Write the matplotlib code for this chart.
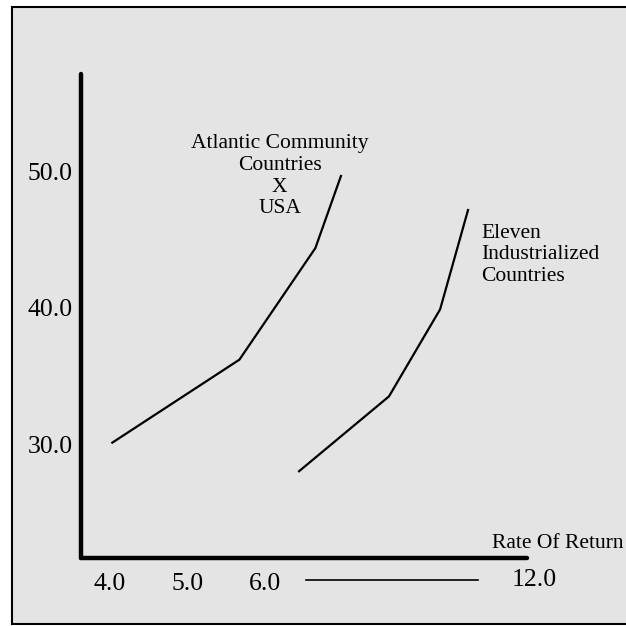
import matplotlib
matplotlib.use("Agg")
import matplotlib.pyplot as plt
from matplotlib.patches import Rectangle
import matplotlib.transforms as mtransforms

plt.rcParams['font.family'] = ['Liberation Serif', 'DejaVu Serif']

# Data
atlantic_x = [4.03, 5.67, 6.65, 6.98]
atlantic_y = [30.1, 36.2, 44.4, 49.7]
eleven_x = [6.44, 7.60, 8.26, 8.62]
eleven_y = [28.0, 33.5, 39.9, 47.2]

x_ticks = [4.0, 5.0, 6.0]
x_tick_labels = ['4.0', '5.0', '6.0']
y_ticks = [30.0, 40.0, 50.0]
y_tick_labels = ['30.0', '40.0', '50.0']
last_x_label = '12.0'
x_title = 'Rate Of Return'
atlantic_label = 'Atlantic Community\nCountries\nX\nUSA'
eleven_label = 'Eleven\nIndustrialized\nCountries'

W = H = 626
fig = plt.figure(figsize=(6.26, 6.26), dpi=100)
fig.patch.set_facecolor('white')

# gray panel with border
fig.patches.append(Rectangle((12 / W, 1 - 624 / H), 1.2, (624 - 7) / H,
                             transform=fig.transFigure, facecolor='#e4e4e4',
                             edgecolor='black', linewidth=1.5, zorder=-5))

left_px, right_px, top_px, bottom_px = 81, 527, 74, 558
ax = fig.add_axes([left_px / W, 1 - bottom_px / H,
                   (right_px - left_px) / W, (bottom_px - top_px) / H])
ax.set_facecolor('none')
ax.set_zorder(2)

xmin, xmax = 3.626, 9.381
ymin, ymax = 21.62, 57.2
ax.set_xlim(xmin, xmax)
ax.set_ylim(ymin, ymax)

for s in ['top', 'right']:
    ax.spines[s].set_visible(False)
for s in ['left', 'bottom']:
    ax.spines[s].set_linewidth(3.2)
    ax.spines[s].set_capstyle('round')

ax.set_xticks(x_ticks)
ax.set_xticklabels(x_tick_labels)
ax.set_yticks(y_ticks)
ax.set_yticklabels(y_tick_labels)
ax.tick_params(axis='both', length=0, labelsize=18.5)
ax.tick_params(axis='x', pad=11)
ax.tick_params(axis='y', pad=6)

ax.plot(atlantic_x, atlantic_y, color='black', lw=1.6, solid_joinstyle='miter')
ax.plot(eleven_x, eleven_y, color='black', lw=1.6, solid_joinstyle='miter')

# broken-axis indicator: line and 12.0 label
trans = mtransforms.blended_transform_factory(ax.transData, ax.transAxes)
ylab = -(580 - bottom_px) / (bottom_px - top_px)
ax.plot([6.53, 8.75], [ylab, ylab], transform=trans, color='black', lw=1.2,
        clip_on=False)
ax.text(9.48, ylab, last_x_label, transform=trans, ha='center', va='center',
        fontsize=18.5, clip_on=False)

ax.text(6.19, 49.67, atlantic_label, ha='center', va='center', fontsize=15.5,
        linespacing=1.19, clip_on=False)
ax.text(8.79, 43.9, eleven_label, ha='left', va='center', fontsize=15.5,
        linespacing=1.19, clip_on=False)
ax.text(10.63, 22.72, x_title, ha='right', va='center', fontsize=15.5,
        clip_on=False)

fig.savefig('out.png', dpi=100)
